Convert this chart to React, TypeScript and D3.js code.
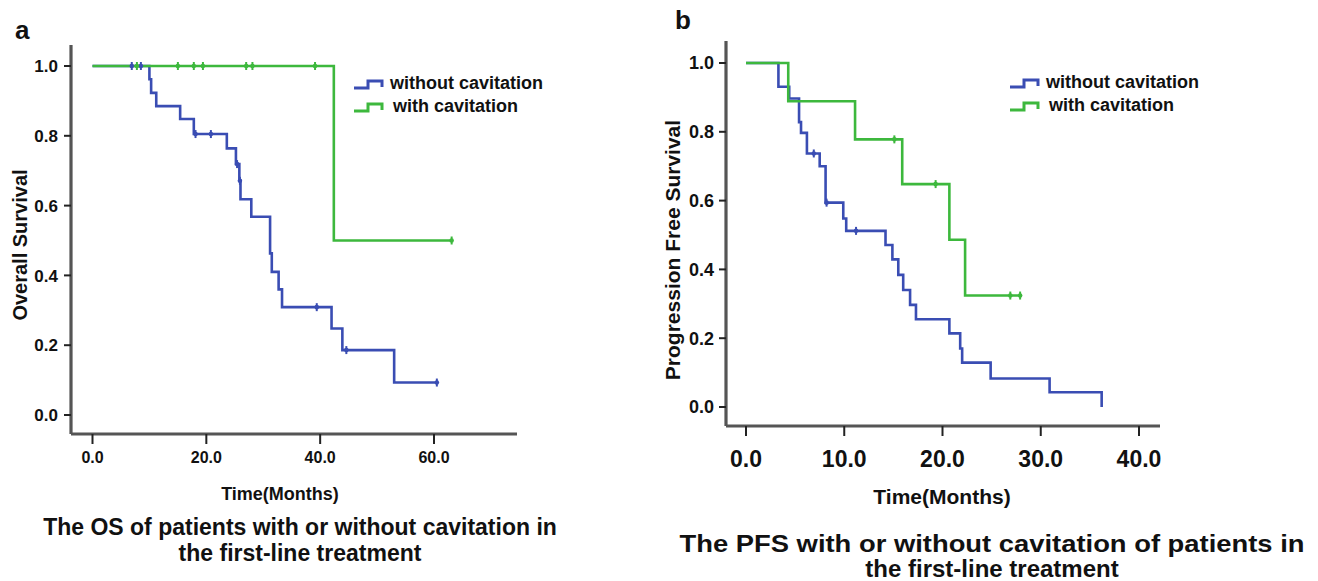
import React from "react";
import * as d3 from "d3";

// ---------- DATA ----------
// Panel a: Overall survival
const osWithoutTimes = [10.0, 10.3, 11.2, 15.4, 17.8, 23.6, 25.2, 25.8, 26.0, 27.9, 31.2, 31.5, 32.7, 33.3, 42.0, 43.9, 53.0];
const osWithoutSurv = [0.962, 0.923, 0.885, 0.848, 0.805, 0.764, 0.719, 0.671, 0.618, 0.568, 0.463, 0.41, 0.36, 0.309, 0.248, 0.186, 0.093];
const osWithoutEnd = 60.5;
const osWithoutCensor = [6.9, 8.5, 18.1, 20.8, 25.4, 25.9, 39.4, 44.6, 60.5];

const osWithTimes = [42.4];
const osWithSurv = [0.5];
const osWithEnd = 63.1;
const osWithCensor = [7.8, 15.0, 17.8, 19.4, 27.0, 28.1, 39.1, 63.1];

// Panel b: Progression free survival
const pfsWithoutTimes = [3.3, 4.4, 5.4, 5.6, 6.2, 7.5, 8.1, 9.9, 10.2, 14.2, 14.9, 15.5, 16.0, 16.7, 17.3, 20.7, 21.8, 22.0, 24.9, 30.9, 36.2];
const pfsWithoutSurv = [0.931, 0.897, 0.828, 0.797, 0.737, 0.7, 0.594, 0.548, 0.512, 0.471, 0.429, 0.384, 0.34, 0.297, 0.255, 0.214, 0.17, 0.129, 0.083, 0.043, 0.0];
const pfsWithoutEnd = 36.2;
const pfsWithoutCensor = [6.9, 8.2, 11.2];

const pfsWithTimes = [4.3, 11.1, 15.9, 20.7, 22.3];
const pfsWithSurv = [0.889, 0.778, 0.648, 0.486, 0.324];
const pfsWithEnd = 27.9;
const pfsWithCensor = [15.1, 19.3, 26.9, 27.9];

const legendLabels = ["without cavitation", "with cavitation"];
const yTicks = [0, 0.2, 0.4, 0.6, 0.8, 1.0];
const xTicksA = [0, 20, 40, 60];
const xTicksB = [0, 10, 20, 30, 40];

const BLUE = "#3a4db3";
const GREEN = "#3db83d";
const AXIS = "#555";
const FONT = "'Liberation Sans', Arial, sans-serif";

function survAt(times: number[], surv: number[], t: number) {
  let s = 1;
  for (let i = 0; i < times.length; i++) if (times[i] <= t) s = surv[i];
  return s;
}

function stepPoints(times: number[], surv: number[], end: number): [number, number][] {
  const pts: [number, number][] = [[0, 1]];
  times.forEach((t, i) => pts.push([t, surv[i]]));
  pts.push([end, surv[surv.length - 1]]);
  return pts;
}

type Curve = { times: number[]; surv: number[]; end: number; censor: number[]; color: string };

function Panel(props: {
  x: d3.ScaleLinear<number, number>;
  y: d3.ScaleLinear<number, number>;
  curves: Curve[];
  xTicks: number[];
  axisX: number; axisY: number; axisTop: number; axisRight: number;
  tickFont: number; yTickFont: number; yTickGap: number; xLabelY: number;
  yTitle: string; yTitleX: number; yTitleY: number; yTitleFont: number;
  xTitleY: number; xTitleFont: number; xTitleX: number;
  legendX: number; legendY: number; legendFont: number;
}) {
  const { x, y, curves } = props;
  const line = d3.line<[number, number]>().x(d => x(d[0])).y(d => y(d[1])).curve(d3.curveStepAfter);
  return (
    <g>
      {/* axes */}
      <line x1={props.axisX} x2={props.axisX} y1={props.axisTop} y2={props.axisY} stroke={AXIS} strokeWidth={3.2} />
      <line x1={props.axisX} x2={props.axisRight} y1={props.axisY} y2={props.axisY} stroke={AXIS} strokeWidth={3.2} />
      {yTicks.map(t => (
        <g key={"y" + t}>
          <line x1={props.axisX - 7} x2={props.axisX} y1={y(t)} y2={y(t)} stroke="#222" strokeWidth={2} />
          <text x={props.axisX - props.yTickGap} y={y(t)} dy="0.36em" textAnchor="end" fontFamily={FONT} fontWeight="bold" fontSize={props.yTickFont} fill="#111">{t.toFixed(1)}</text>
        </g>
      ))}
      {props.xTicks.map(t => (
        <g key={"x" + t}>
          <line x1={x(t)} x2={x(t)} y1={props.axisY} y2={props.axisY + 10} stroke="#222" strokeWidth={2} />
          <text x={x(t)} y={props.xLabelY} textAnchor="middle" fontFamily={FONT} fontWeight="bold" fontSize={props.tickFont} fill="#111">{t.toFixed(1)}</text>
        </g>
      ))}
      <text transform={`translate(${props.yTitleX},${props.yTitleY}) rotate(-90)`} textAnchor="middle" fontFamily={FONT} fontWeight="bold" fontSize={props.yTitleFont} fill="#111">{props.yTitle}</text>
      <text x={props.xTitleX} y={props.xTitleY} textAnchor="middle" fontFamily={FONT} fontWeight="bold" fontSize={props.xTitleFont} fill="#111">Time(Months)</text>
      {/* curves */}
      {curves.map((c, i) => (
        <path key={"c" + i} d={line(stepPoints(c.times, c.surv, c.end)) || ""} fill="none" stroke={c.color} strokeWidth={2.6} />
      ))}
      {curves.map((c, i) => (
        <g key={"m" + i}>
          {c.censor.map((t, j) => {
            const cx = x(t), cy = y(survAt(c.times, c.surv, t));
            return (
              <g key={j}>
                <line x1={cx} x2={cx} y1={cy - 4} y2={cy + 4} stroke={c.color} strokeWidth={2} />
                <circle cx={cx} cy={cy} r={2.3} fill={c.color} />
              </g>
            );
          })}
        </g>
      ))}
      {/* legend */}
      {legendLabels.map((lab, i) => {
        const lx = props.legendX, ly = props.legendY + i * 23;
        const col = i === 0 ? BLUE : GREEN;
        return (
          <g key={"l" + i}>
            <path d={`M${lx},${ly + 5} H${lx + 14} V${ly - 2} H${lx + 28} V${ly + 4}`} fill="none" stroke={col} strokeWidth={3} />
            <text x={lx + 36 + i * 3} y={ly} dy="0.36em" fontFamily={FONT} fontWeight="bold" fontSize={props.legendFont} fill="#111">{lab}</text>
          </g>
        );
      })}
    </g>
  );
}

export default function App() {
  const xA = d3.scaleLinear().domain([0, 60]).range([92.5, 434]);
  const yA = d3.scaleLinear().domain([0, 1]).range([415, 66]);
  const xB = d3.scaleLinear().domain([0, 40]).range([746, 1139]);
  const yB = d3.scaleLinear().domain([0, 1]).range([407, 63]);

  const curvesA: Curve[] = [
    { times: osWithoutTimes, surv: osWithoutSurv, end: osWithoutEnd, censor: osWithoutCensor, color: BLUE },
    { times: osWithTimes, surv: osWithSurv, end: osWithEnd, censor: osWithCensor, color: GREEN },
  ];
  const curvesB: Curve[] = [
    { times: pfsWithoutTimes, surv: pfsWithoutSurv, end: pfsWithoutEnd, censor: pfsWithoutCensor, color: BLUE },
    { times: pfsWithTimes, surv: pfsWithSurv, end: pfsWithEnd, censor: pfsWithCensor, color: GREEN },
  ];

  return (
    <svg width={1318} height={581} style={{ position: "absolute", left: 0, top: 0, background: "#fff" }}>
      <rect width={1318} height={581} fill="#fff" />
      <text x={15} y={39} fontFamily={FONT} fontWeight="bold" fontSize={26} fill="#111">a</text>
      <text x={675} y={29} fontFamily={FONT} fontWeight="bold" fontSize={26} fill="#111">b</text>
      <Panel x={xA} y={yA} curves={curvesA} xTicks={xTicksA}
        axisX={71} axisY={434} axisTop={45} axisRight={517}
        tickFont={16} yTickFont={17} yTickGap={13} xLabelY={463}
        yTitle="Overall Survival" yTitleX={27} yTitleY={245} yTitleFont={20}
        xTitleX={280} xTitleY={500} xTitleFont={18}
        legendX={354} legendY={83} legendFont={18} />
      <Panel x={xB} y={yB} curves={curvesB} xTicks={xTicksB}
        axisX={726} axisY={426} axisTop={41} axisRight={1160}
        tickFont={23} yTickFont={18} yTickGap={12} xLabelY={467}
        yTitle="Progression Free Survival" yTitleX={680} yTitleY={250} yTitleFont={21}
        xTitleX={942} xTitleY={504} xTitleFont={21}
        legendX={1010} legendY={82} legendFont={18} />
      <text x={300} y={535} textAnchor="middle" fontFamily={FONT} fontWeight="bold" fontSize={23} fill="#111">The OS of patients with or without cavitation in</text>
      <text x={300} y={561} textAnchor="middle" fontFamily={FONT} fontWeight="bold" fontSize={23} fill="#111">the first-line treatment</text>
      <text x={992} y={552} textAnchor="middle" fontFamily={FONT} fontWeight="bold" fontSize={24} textLength={625} lengthAdjust="spacingAndGlyphs" fill="#111">The PFS with or without cavitation of patients in</text>
      <text x={992} y={577} textAnchor="middle" fontFamily={FONT} fontWeight="bold" fontSize={24} fill="#111">the first-line treatment</text>
    </svg>
  );
}
